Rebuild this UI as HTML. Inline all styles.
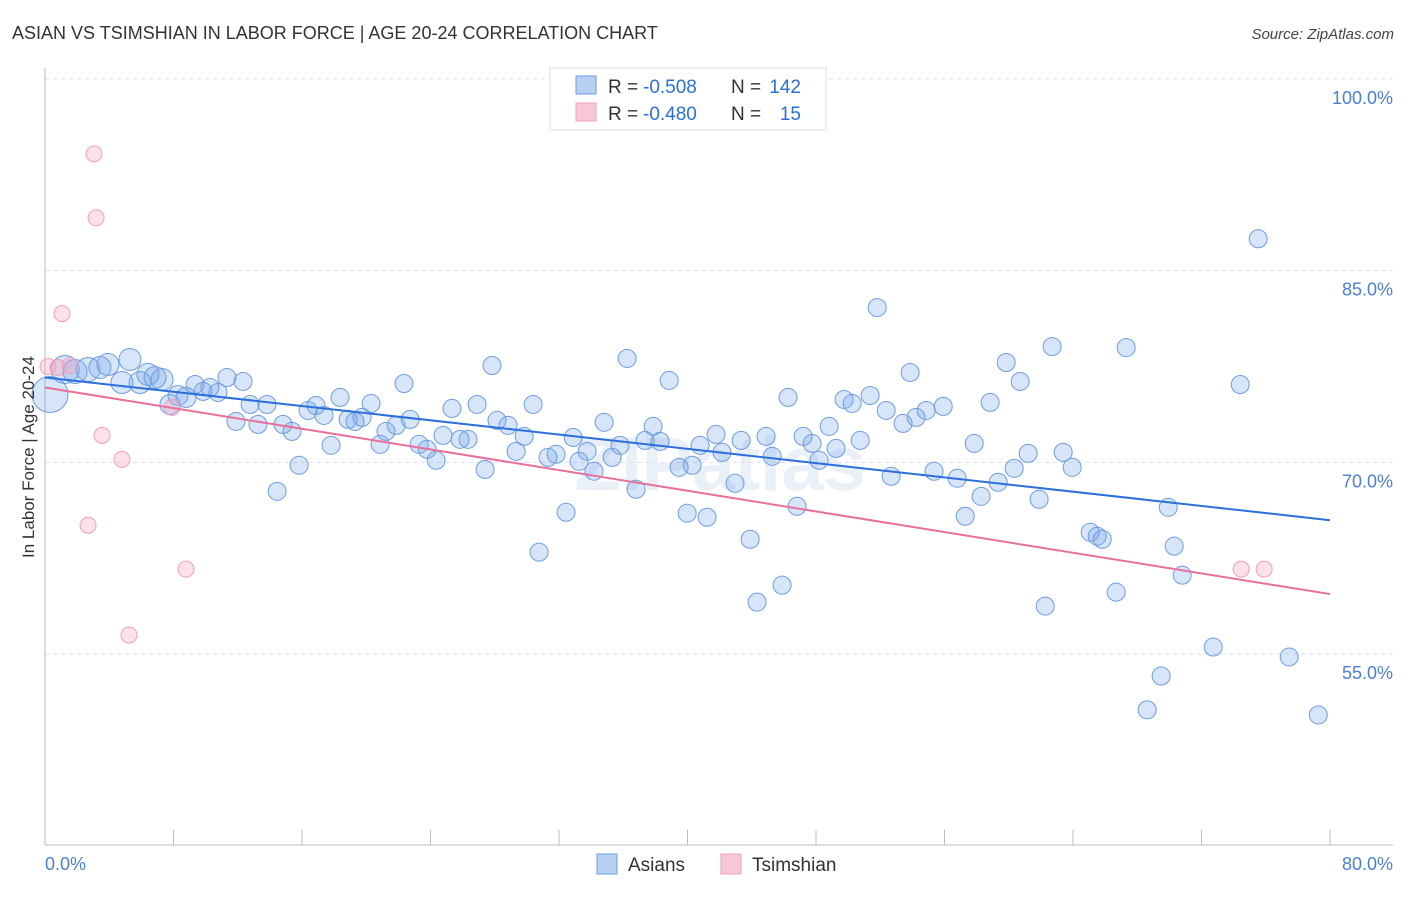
<!DOCTYPE html>
<html><head><meta charset="utf-8"><style>
body{margin:0;background:#fff;font-family:"Liberation Sans",sans-serif;}
svg text{font-family:"Liberation Sans",sans-serif;}
</style></head><body>
<svg id="chart" width="1406" height="892" xmlns="http://www.w3.org/2000/svg">
<text x="12" y="39" font-size="18" fill="#333">ASIAN VS TSIMSHIAN IN LABOR FORCE | AGE 20-24 CORRELATION CHART</text>
<text x="1394" y="39" font-size="15" fill="#444" text-anchor="end" font-style="italic">Source: ZipAtlas.com</text>
<text x="720" y="490" font-size="76" fill="#eaf0f8" text-anchor="middle" font-weight="bold">ZIPatlas</text>
<g id="grid"></g>
<g id="axes"></g>
<g id="points"></g>
<g id="trends"></g>
<text transform="translate(34,457) rotate(-90)" font-size="17" fill="#333" text-anchor="middle">In Labor Force | Age 20-24</text>
<g>
<rect x="550" y="68" width="276" height="62" fill="#fff" stroke="#ddd"/>
<rect x="576" y="76" width="20" height="18" fill="#b8d0f2" stroke="#6d9de0"/>
<text x="608" y="93" font-size="19" fill="#333">R =</text>
<text x="643" y="93" font-size="19" fill="#2a6fdb">-0.508</text>
<text x="731" y="93" font-size="19" fill="#333">N =</text>
<text x="801" y="93" font-size="19" fill="#2a6fdb" text-anchor="end">142</text>
<rect x="576" y="103" width="20" height="18" fill="#f8c8d6" stroke="#f0a0b8"/>
<text x="608" y="120" font-size="19" fill="#333">R =</text>
<text x="643" y="120" font-size="19" fill="#2a6fdb">-0.480</text>
<text x="731" y="120" font-size="19" fill="#333">N =</text>
<text x="801" y="120" font-size="19" fill="#2a6fdb" text-anchor="end">15</text>
</g>
<g>
<rect x="597" y="854" width="20" height="20" fill="#b8d0f2" stroke="#6d9de0"/>
<text x="628" y="871" font-size="19" fill="#333">Asians</text>
<rect x="721" y="854" width="20" height="20" fill="#f8c8d6" stroke="#f0a0b8"/>
<text x="752" y="871" font-size="19" fill="#333">Tsimshian</text>
</g>
</svg>
<script>
const yTicks=[100,85,70,55];
const xTickLabels=["0.0%","80.0%"];
const blueX=[0.31,1.25,1.87,2.68,3.42,3.92,5.29,4.79,5.92,6.41,6.85,7.29,7.78,8.28,8.78,9.34,9.84,10.27,10.77,11.33,12.33,11.89,12.77,13.26,13.82,14.45,14.82,15.38,15.82,16.38,16.87,17.37,17.81,18.37,18.87,19.30,19.74,20.30,20.86,21.23,21.86,22.35,22.73,23.29,23.79,24.35,24.78,25.34,25.84,26.34,26.90,27.40,27.83,28.14,28.83,29.33,29.83,30.39,30.76,31.32,31.82,32.44,32.88,33.25,33.75,34.18,34.81,35.31,35.80,36.24,36.80,37.36,37.86,38.29,38.86,39.48,39.98,40.29,40.78,41.22,41.78,42.15,42.96,43.34,43.90,44.33,44.89,45.27,45.89,46.26,46.82,47.20,47.76,48.19,48.82,49.25,49.75,50.25,50.75,51.37,51.81,52.37,52.68,53.42,53.86,54.23,54.86,55.35,55.92,56.79,57.29,57.85,58.28,58.84,59.34,59.84,60.34,60.71,61.21,61.89,62.27,62.70,63.39,63.95,65.07,65.51,65.82,66.69,67.31,68.62,69.49,69.93,70.30,70.80,72.73,74.41,75.53,77.46,79.27];
const blueY=[75.31,77.27,77.11,77.27,77.42,77.66,78.05,76.25,76.25,76.88,76.64,76.48,74.53,75.23,75.08,76.09,75.55,75.86,75.47,76.64,76.33,73.20,74.53,72.97,74.53,67.73,72.97,72.42,69.77,74.06,74.45,73.67,71.33,75.08,73.36,73.20,73.52,74.61,71.41,72.42,72.89,76.17,73.36,71.41,71.02,70.16,72.11,74.22,71.80,71.80,74.53,69.45,77.58,73.28,72.89,70.86,72.03,74.53,62.97,70.39,70.63,66.09,71.95,70.08,70.86,69.30,73.13,70.39,71.33,78.13,67.89,71.72,72.81,71.64,76.41,69.61,66.02,69.77,71.33,65.70,72.19,70.78,68.36,71.72,63.98,59.06,72.03,70.47,60.39,75.08,66.56,72.03,71.48,70.16,72.81,71.09,74.92,74.61,71.72,75.23,82.11,74.06,68.91,73.05,77.03,73.52,74.06,69.30,74.38,68.75,65.78,71.48,67.34,74.69,68.44,77.81,69.53,76.33,70.70,67.11,58.75,79.06,70.78,69.61,64.53,64.22,63.98,59.84,78.98,50.63,53.28,66.48,63.44,61.17,55.55,76.09,87.50,54.77,50.23];
const blueR=[18,14,12,12,11,11,11,11,11,11,11,11,10,10,10];
const pinkX=[0.19,0.81,1.06,1.56,2.68,3.05,3.18,3.55,4.79,5.23,7.91,8.78,74.47,75.90];
const pinkY=[77.50,77.42,81.64,77.58,65.08,94.14,89.14,72.11,70.23,56.48,74.30,61.64,61.64,61.64];
const blueTrend=[[0,76.64],[80,65.47]];
const pinkTrend=[[0,75.86],[80,59.69]];
const NS="http://www.w3.org/2000/svg";
const X0=45,X1=1330,Y100=79,Y55=654;
function sx(v){return X0+(X1-X0)*v/80;}
function sy(v){return Y100+(100-v)*(Y55-Y100)/45;}
function mk(tag,attrs,parent){const e=document.createElementNS(NS,tag);for(const k in attrs)e.setAttribute(k,attrs[k]);document.getElementById(parent).appendChild(e);return e;}
yTicks.forEach(t=>{
 const l=mk('line',{x1:45,x2:1393,y1:sy(t),y2:sy(t),stroke:'#dde',"stroke-dasharray":'4,4'},'grid');
 
 
 const tx=mk('text',{x:1393,y:sy(t)+25,'font-size':18,fill:'#4a7fd4','text-anchor':'end'},'grid');
 tx.textContent=t.toFixed(1)+'%';
 
 
});
const ax=mk('line',{x1:45,x2:45,y1:68,y2:845,stroke:'#bbb'},'axes');


const bx=mk('line',{x1:45,x2:1393,y1:845,y2:845,stroke:'#bbb'},'axes');


for(let i=0;i<=10;i++){const t=mk('line',{x1:sx(i*8),x2:sx(i*8),y1:830,y2:845,stroke:'#bbb'},'axes');
 
 }
[[0,'start'],[80,'end']].forEach((p,i)=>{const t=mk('text',{x:i?1393:45,y:870,'font-size':18,fill:'#4a7fd4','text-anchor':p[1]},'axes');t.textContent=xTickLabels[i];
 
 });
blueX.forEach((v,i)=>{const c=mk('circle',{cx:sx(v),cy:sy(blueY[i]),r:blueR[i]||9,fill:'rgba(110,160,230,0.28)',stroke:'#6d9de0','stroke-width':1},'points');
 
 });
pinkX.forEach((v,i)=>{const c=mk('circle',{cx:sx(v),cy:sy(pinkY[i]),r:8,fill:'rgba(245,160,190,0.32)',stroke:'#f0a0b8','stroke-width':1},'points');
 
 });
const bl=mk('line',{x1:sx(blueTrend[0][0]),y1:sy(blueTrend[0][1]),x2:sx(blueTrend[1][0]),y2:sy(blueTrend[1][1]),stroke:'#2a6fdb','stroke-width':2},'trends');


const pl=mk('line',{x1:sx(pinkTrend[0][0]),y1:sy(pinkTrend[0][1]),x2:sx(pinkTrend[1][0]),y2:sy(pinkTrend[1][1]),stroke:'#e8709a','stroke-width':2},'trends');


</script>
</body></html>
